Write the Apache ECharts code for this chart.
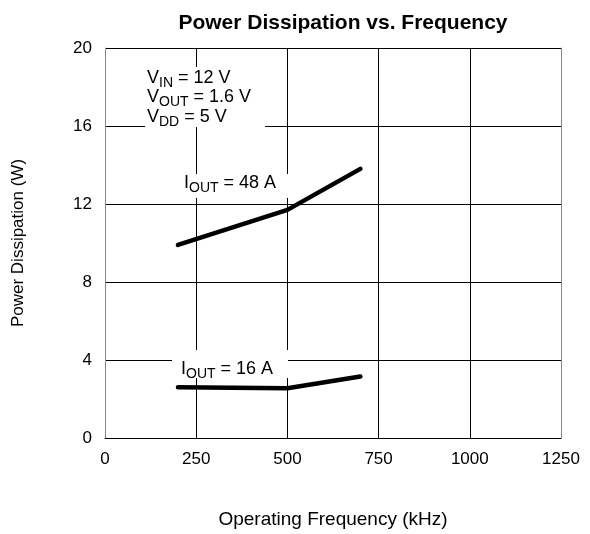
<!DOCTYPE html>
<html>
<head>
<meta charset="utf-8">
<script src="https://cdn.jsdelivr.net/npm/echarts@6/dist/echarts.min.js"></script>
<style>html,body{margin:0;padding:0;background:#fff;overflow:hidden}#c{width:590px;height:534px}</style>
</head>
<body>
<div id="c"></div>
<script>
const frequency = [200, 500, 700];
const iout48 = [9.9, 11.7, 13.8];
const iout16 = [2.6, 2.55, 3.15];
const xTicks = [0, 250, 500, 750, 1000, 1250];
const yTicks = [0, 4, 8, 12, 16, 20];
const title = 'Power Dissipation vs. Frequency';
const xName = 'Operating Frequency (kHz)';
const yName = 'Power Dissipation (W)';

const FONT = '"Liberation Sans", Arial, sans-serif';
const chart = echarts.init(document.getElementById('c'), null, {renderer: 'canvas'});

const rich = {
  n: {fontSize: 18, fontFamily: FONT, color: '#000', lineHeight: 19.5},
  s: {fontSize: 14, fontFamily: FONT, color: '#000', lineHeight: 9, padding: [10, 0, 0, 0]}
};

chart.setOption({
  animation: false,
  backgroundColor: '#fff',
  title: {
    text: title, left: 338, top: 8, textAlign: 'center',
    textStyle: {fontFamily: FONT, fontSize: 21, fontWeight: 'bold', color: '#000'}
  },
  grid: {left: 105, width: 456, top: 48, height: 402},
  xAxis: {
    type: 'value', min: 0, max: 1250, interval: 250,
    name: xName, nameLocation: 'middle', nameGap: 72,
    nameTextStyle: {fontFamily: FONT, fontSize: 19, color: '#000'},
    axisLine: {show: true, lineStyle: {color: '#000', width: 1}},
    axisTick: {show: false},
    axisLabel: {fontFamily: FONT, fontSize: 17, color: '#000', margin: 13,
      formatter: v => xTicks.includes(v) ? String(v) : ''},
    splitLine: {show: true, lineStyle: {color: '#000', width: 1}}
  },
  yAxis: [{
    type: 'value', min: 0, max: 20, interval: 4,
    name: yName, nameLocation: 'middle', nameGap: 78,
    nameTextStyle: {fontFamily: FONT, fontSize: 17, color: '#000'},
    axisLine: {show: true, lineStyle: {color: '#888', width: 1}},
    axisTick: {show: false},
    axisLabel: {fontFamily: FONT, fontSize: 17, color: '#000', margin: 13,
      formatter: v => yTicks.includes(v) ? String(v) : ''},
    splitLine: {show: true, lineStyle: {color: '#000', width: 1}}
  }, {
    type: 'value', min: 0, max: 20, interval: 4, position: 'right',
    axisLine: {show: true, lineStyle: {color: '#888', width: 1}},
    axisTick: {show: false}, axisLabel: {show: false}, splitLine: {show: false}
  }],
  series: [{
    type: 'line', name: 'IOUT = 48 A', data: frequency.map((f, i) => [f, iout48[i]]),
    showSymbol: false, symbol: 'none', z: 5,
    lineStyle: {color: '#000', width: 4.5, cap: 'round', join: 'round'}
  }, {
    type: 'line', name: 'IOUT = 16 A', data: frequency.map((f, i) => [f, iout16[i]]),
    showSymbol: false, symbol: 'none', z: 5,
    lineStyle: {color: '#000', width: 4.5, cap: 'round', join: 'round'}
  }],
  graphic: [{
    type: 'rect', shape: {x: 145, y: 67, width: 120, height: 60}, style: {fill: '#fff'}, z: 10
  }, {
    type: 'text', x: 147, y: 68, z: 11,
    style: {
      text: '{n|V}{s|IN}{n| = 12 V}\n{n|V}{s|OUT}{n| = 1.6 V}\n{n|V}{s|DD}{n| = 5 V}',
      rich: rich
    }
  }, {
    type: 'rect', shape: {x: 176, y: 174, width: 115, height: 24}, style: {fill: '#fff'}, z: 10
  }, {
    type: 'text', x: 184, y: 173, z: 11,
    style: {text: '{n|I}{s|OUT}{n| = 48 A}', rich: rich}
  }, {
    type: 'rect', shape: {x: 172, y: 350, width: 116, height: 28}, style: {fill: '#fff'}, z: 10
  }, {
    type: 'text', x: 181, y: 359, z: 11,
    style: {text: '{n|I}{s|OUT}{n| = 16 A}', rich: rich}
  }]
});
</script>
</body>
</html>
